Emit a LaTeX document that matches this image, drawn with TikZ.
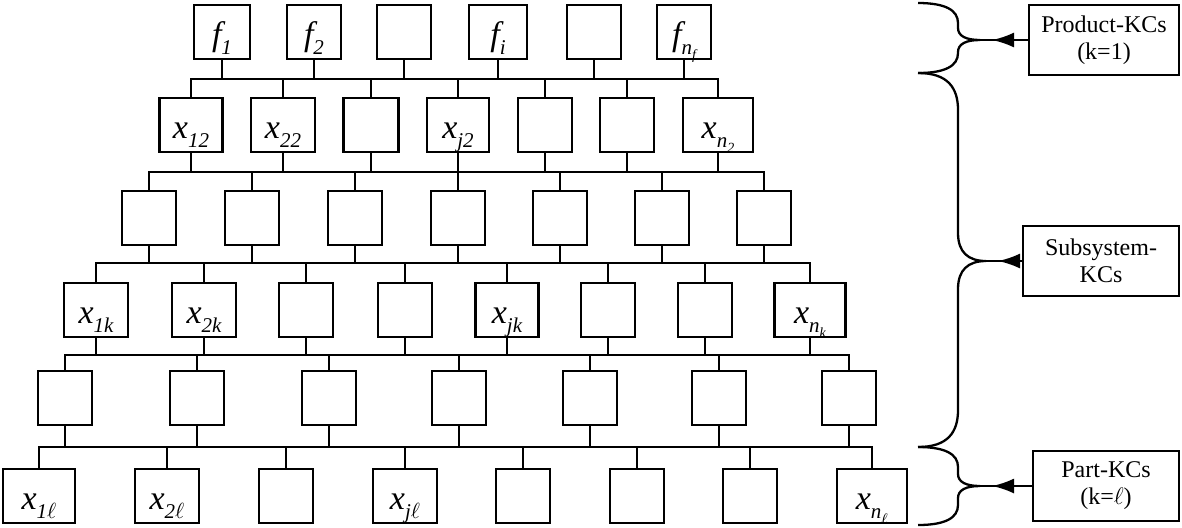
\documentclass[tikz,border=0pt]{standalone}
\usepackage{fontspec}
\setmainfont{Liberation Serif}
\usetikzlibrary{arrows.meta, decorations.markings}

\newcommand{\kclab}[2]{{\fontsize{17}{17}\selectfont\itshape #1}\raisebox{-4.5pt}{\fontsize{10.5}{10.5}\selectfont\itshape #2}}
\newcommand{\nsub}[1]{n\raisebox{-2.5pt}{\fontsize{7}{7}\selectfont #1}}

\begin{document}
\begin{tikzpicture}[x=0.5pt, y=-0.5pt, line width=1.15pt,
    kcbox/.style={draw, minimum width=27pt, minimum height=27pt, inner sep=0pt, text height=13pt, text depth=0pt},
    levelbox/.style={draw, align=center, minimum height=35pt, inner sep=2pt, font=\fontsize{12}{13.5}\selectfont},
    markarrow/.style={postaction={decorate}, decoration={markings, mark=at position -6pt with {\arrow{Latex[length=11pt, width=7.5pt]}}}}]
  \useasboundingbox (0,0) rectangle (1182,527);

  % hauteurs des barres
  \coordinate (bus1) at (0,79);
  \coordinate (bus2) at (0,172);
  \coordinate (bus3) at (0,263);
  \coordinate (bus4) at (0,355);
  \coordinate (bus5) at (0,447);

  % niveau 1 (produit)
  \foreach \i/\x/\w/\lab in {1/222/28/{\kclab{f}{1}}, 2/314/27/{\kclab{f}{2}}, 3/404/27/{}, 4/498/29/{\kclab{f}{i}}, 5/594/27/{}, 6/684/27/{\kclab{f}{\nsub{f}}}}
    \node[kcbox, minimum width=\w*1pt] (a\i) at (\x,32) {\lab};
  % niveau 2
  \foreach \i/\x/\w/\lab in {1/191/31.5/{\kclab{x}{12}}, 2/283/32/{\kclab{x}{22}}, 3/371/27.5/{}, 4/458/31/{\kclab{x}{j2}}, 5/545/27/{}, 6/627/27/{}, 7/718/35/{\kclab{x}{\nsub{2}}}}
    \node[kcbox, minimum width=\w*1pt] (b\i) at (\x,125) {\lab};
  % niveau 3
  \foreach \i/\x in {1/149, 2/252, 3/355, 4/458, 5/560, 6/662, 7/764}
    \node[kcbox] (c\i) at (\x,218) {};
  % niveau 4
  \foreach \i/\x/\w/\lab in {1/96/32/{\kclab{x}{1k}}, 2/204/32/{\kclab{x}{2k}}, 3/306/27/{}, 4/405/27/{}, 5/507/31.5/{\kclab{x}{jk}}, 6/608/27/{}, 7/705/27/{}, 8/810/35.5/{\kclab{x}{\nsub{k}}}}
    \node[kcbox, minimum width=\w*1pt] (d\i) at (\x,310) {\lab};
  % niveau 5
  \foreach \i/\x in {1/65, 2/197, 3/329, 4/459, 5/590, 6/719, 7/849}
    \node[kcbox] (e\i) at (\x,398) {};
  % niveau 6 (pieces)
  \foreach \i/\x/\w/\lab in {1/39/36/{\kclab{x}{1$\ell$}}, 2/167/32/{\kclab{x}{2$\ell$}}, 3/286/27/{}, 4/405/32/{\kclab{x}{j$\ell$}}, 5/523/27/{}, 6/637/27/{}, 7/750/27/{}, 8/872/35/{\kclab{x}{\nsub{$\ell$}}}}
    \node[kcbox, minimum width=\w*1pt] (f\i) at (\x,496) {\lab};

  % liaisons 1-2
  \foreach \i in {1,...,6} \draw (a\i.south) -- (a\i.south |- bus1);
  \draw (b1.north) |- (b7.north |- bus1) -- (b7.north);
  \foreach \i in {2,...,6} \draw (b\i.north) -- (b\i.north |- bus1);
  % liaisons 2-3
  \foreach \i in {1,...,7} \draw (b\i.south) -- (b\i.south |- bus2);
  \draw (c1.north) |- (c7.north |- bus2) -- (c7.north);
  \foreach \i in {2,...,6} \draw (c\i.north) -- (c\i.north |- bus2);
  % liaisons 3-4
  \foreach \i in {1,...,7} \draw (c\i.south) -- (c\i.south |- bus3);
  \draw (d1.north) |- (d8.north |- bus3) -- (d8.north);
  \foreach \i in {2,...,7} \draw (d\i.north) -- (d\i.north |- bus3);
  % liaisons 4-5
  \foreach \i in {1,...,8} \draw (d\i.south) -- (d\i.south |- bus4);
  \draw (e1.north) |- (e7.north |- bus4) -- (e7.north);
  \foreach \i in {2,...,6} \draw (e\i.north) -- (e\i.north |- bus4);
  % liaisons 5-6
  \foreach \i in {1,...,7} \draw (e\i.south) -- (e\i.south |- bus5);
  \draw (f1.north) |- (f8.north |- bus5) -- (f8.north);
  \foreach \i in {2,...,7} \draw (f\i.north) -- (f\i.north |- bus5);

  % niveaux de KCs
  \node[levelbox, minimum width=75pt] (prod) at (1104,40) {Product-KCs\\(k=1)};
  \node[levelbox, minimum width=78pt] (subs) at (1101,261) {Subsystem-\\KCs};
  \node[levelbox, minimum width=73pt] (part) at (1106,486) {Part-KCs\\(k=$\ell$)};
  \coordinate (tip1) at (980,40);
  \coordinate (tip2) at (986,261);
  \coordinate (tip3) at (980,486);

  % accolades
  \draw (918,3) .. controls (945,3) and (958,10) .. (958,23) -- (958,28)
    .. controls (958,36) and (966,40) .. (tip1) .. controls (966,40) and (958,44) .. (958,52)
    -- (958,53) .. controls (958,66) and (945,73) .. (918,73);
  \draw (918,73) .. controls (948,73) and (958,88) .. (958,110) -- (958,233)
    .. controls (958,252) and (968,261) .. (tip2) .. controls (968,261) and (958,270) .. (958,289)
    -- (958,410) .. controls (958,432) and (948,447) .. (918,447);
  \draw (918,447) .. controls (945,447) and (958,454) .. (958,467) -- (958,474)
    .. controls (958,482) and (966,486) .. (tip3) .. controls (966,486) and (958,490) .. (958,498)
    -- (958,505) .. controls (958,518) and (945,525) .. (918,525);

  \draw[markarrow] (prod.west) -- (tip1);
  \draw[markarrow] (subs.west) -- (tip2);
  \draw[markarrow] (part.west) -- (tip3);
\end{tikzpicture}
\end{document}
